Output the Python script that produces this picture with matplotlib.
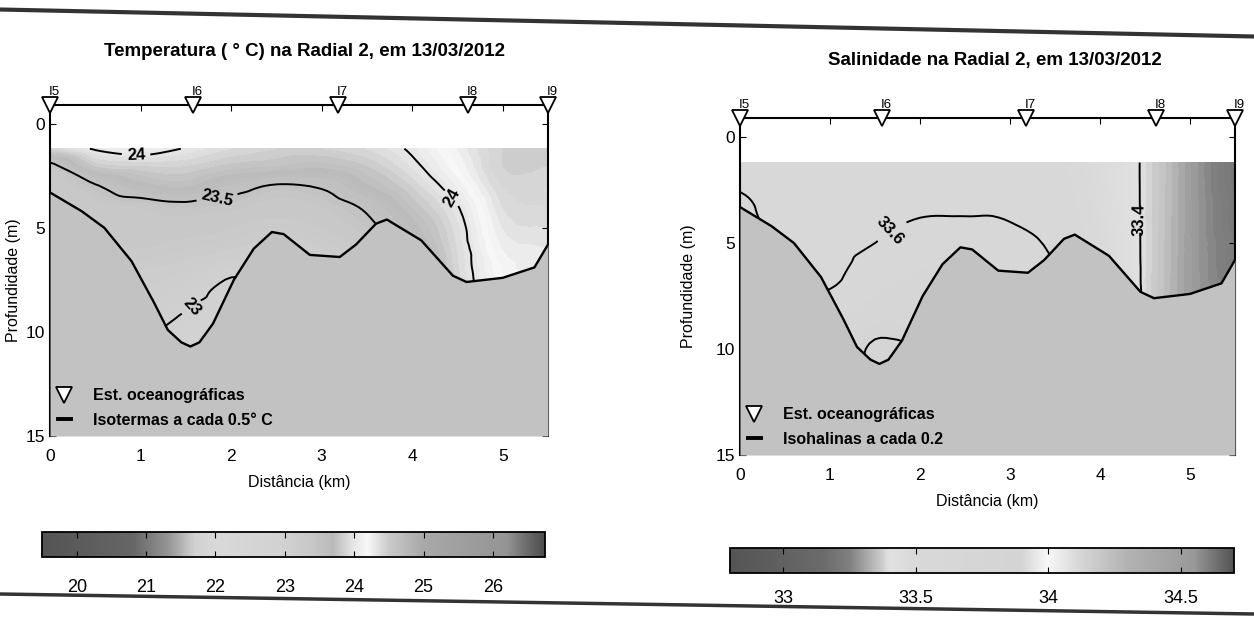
import numpy as np
import matplotlib
matplotlib.use("Agg")
import matplotlib.pyplot as plt
import matplotlib.tri as mtri
from matplotlib.colors import LinearSegmentedColormap, Normalize
from matplotlib.cm import ScalarMappable
from matplotlib.lines import Line2D

plt.rcParams["font.family"] = ["Liberation Sans", "DejaVu Sans"]

# stations along the radial
stations = ["I5", "I6", "I7", "I8", "I9"]
station_km = [0.0, 1.58, 3.18, 4.62, 5.5]

# bottom profile (km, m)
bottom_km = [0.0, 0.35, 0.6, 0.9, 1.15, 1.3, 1.45, 1.55, 1.65, 1.8, 2.03, 2.25,
             2.45, 2.58, 2.87, 3.2, 3.38, 3.6, 3.72, 4.1, 4.45, 4.6, 5.0, 5.35, 5.5]
bottom_depth = [3.3, 4.2, 5.0, 6.6, 8.6, 9.9, 10.5, 10.7, 10.5, 9.6, 7.5, 6.0,
                5.2, 5.3, 6.3, 6.4, 5.8, 4.8, 4.6, 5.6, 7.3, 7.6, 7.4, 6.9, 5.8]

# section grid
grid_km = [0.0, 0.5, 1.0, 1.5, 2.0, 2.5, 3.0, 3.5, 4.0, 4.5, 5.0, 5.5]
grid_depth = [1.2, 2, 3, 4, 5, 6, 7, 8, 9, 10, 11]

# temperature (°C), one row per column of grid_km
temp_cols = [
    [23.85, 23.45, 23.30, 23.20, 23.15, 23.10, 23.05, 23.00, 22.95, 22.90, 22.85],
    [24.02, 23.80, 23.48, 23.35, 23.30, 23.25, 23.20, 23.15, 23.10, 23.05, 23.00],
    [24.10, 23.85, 23.65, 23.40, 23.35, 23.30, 23.20, 23.15, 23.10, 23.05, 22.98],
    [23.99, 23.85, 23.70, 23.45, 23.35, 23.25, 23.15, 23.08, 23.00, 22.90, 22.85],
    [23.90, 23.78, 23.58, 23.42, 23.30, 23.20, 23.04, 22.95, 22.90, 22.85, 22.80],
    [23.85, 23.75, 23.48, 23.35, 23.25, 23.15, 23.05, 23.00, 22.95, 22.90, 22.85],
    [23.85, 23.72, 23.52, 23.40, 23.30, 23.20, 23.10, 23.05, 23.00, 22.95, 22.90],
    [23.90, 23.80, 23.68, 23.53, 23.45, 23.35, 23.30, 23.25, 23.20, 23.15, 23.10],
    [24.03, 23.96, 23.85, 23.75, 23.65, 23.55, 23.45, 23.40, 23.35, 23.30, 23.25],
    [24.25, 24.20, 24.10, 23.99, 23.93, 23.90, 23.88, 23.85, 23.80, 23.75, 23.70],
    [24.45, 24.45, 24.40, 24.35, 24.30, 24.25, 24.20, 24.15, 24.10, 24.05, 24.00],
    [24.45, 24.45, 24.40, 24.40, 24.35, 24.30, 24.30, 24.25, 24.20, 24.15, 24.10],
]

# salinity
salt_cols = [
    [33.54, 33.57, 33.62, 33.64, 33.65, 33.66, 33.66, 33.66, 33.66, 33.66, 33.66],
    [33.52, 33.54, 33.55, 33.56, 33.57, 33.58, 33.60, 33.62, 33.63, 33.64, 33.65],
    [33.53, 33.54, 33.55, 33.56, 33.57, 33.58, 33.595, 33.63, 33.66, 33.68, 33.70],
    [33.55, 33.56, 33.57, 33.58, 33.60, 33.63, 33.66, 33.70, 33.77, 33.82, 33.83],
    [33.56, 33.575, 33.585, 33.605, 33.64, 33.67, 33.70, 33.73, 33.75, 33.79, 33.79],
    [33.56, 33.575, 33.59, 33.605, 33.63, 33.66, 33.68, 33.70, 33.71, 33.72, 33.72],
    [33.55, 33.565, 33.585, 33.60, 33.62, 33.64, 33.66, 33.67, 33.68, 33.69, 33.70],
    [33.53, 33.54, 33.555, 33.57, 33.585, 33.60, 33.62, 33.63, 33.64, 33.65, 33.66],
    [33.47, 33.47, 33.475, 33.48, 33.49, 33.50, 33.51, 33.52, 33.53, 33.54, 33.55],
    [33.39, 33.39, 33.39, 33.39, 33.39, 33.39, 33.39, 33.39, 33.39, 33.39, 33.39],
    [33.30, 33.30, 33.30, 33.30, 33.30, 33.30, 33.30, 33.30, 33.30, 33.30, 33.30],
    [33.21, 33.21, 33.22, 33.22, 33.23, 33.23, 33.24, 33.24, 33.25, 33.25, 33.25],
]

temp_ticks = [20, 21, 22, 23, 24, 25, 26]
salt_ticks = [33, 33.5, 34, 34.5]


def gray_cmap(name, vmin, vmax, anchors):
    pts = [((v - vmin) / (vmax - vmin), (g, g, g)) for v, g in anchors]
    return LinearSegmentedColormap.from_list(name, pts)


temp_norm = Normalize(19.5, 26.75)
temp_cmap = gray_cmap("temp", 19.5, 26.75, [
    (19.5, 0.33), (20.8, 0.40), (21.3, 0.58), (21.7, 0.82), (22.0, 0.85),
    (23.0, 0.82), (23.4, 0.78), (23.7, 0.73), (23.95, 0.88), (24.2, 0.97),
    (24.5, 0.79), (25.0, 0.66), (26.2, 0.58), (26.75, 0.30)])

salt_norm = Normalize(32.8, 34.7)
salt_cmap = gray_cmap("salt", 32.8, 34.7, [
    (32.8, 0.33), (33.15, 0.42), (33.25, 0.50), (33.33, 0.70), (33.4, 0.88),
    (33.5, 0.85), (33.9, 0.83), (34.0, 0.97), (34.1, 0.86), (34.3, 0.70),
    (34.55, 0.60), (34.7, 0.33)])

SEAFLOOR = "#c2c2c2"


def draw_section(ax, values, cmap, norm, line_levels, fmt, label_pos, legend_text):
    X, Y = np.meshgrid(grid_km, grid_depth)
    Z = np.array(values).T
    tri = mtri.Triangulation(X.ravel(), Y.ravel())
    interp = mtri.CubicTriInterpolator(tri, Z.ravel(), kind="geom")
    tri_f, z_f = mtri.UniformTriRefiner(tri).refine_field(Z.ravel(), interp, subdiv=3)

    ax.tricontourf(tri_f, z_f, levels=np.linspace(norm.vmin, norm.vmax, 146),
                   cmap=cmap, norm=norm, zorder=1)
    cs = ax.tricontour(tri_f, z_f, levels=line_levels, colors="k", linewidths=1.4, zorder=2)
    labels = ax.clabel(cs, fmt=fmt, fontsize=12, manual=label_pos, inline_spacing=5)
    for t in labels:
        t.set_fontweight("bold")

    ax.fill_between(bottom_km, bottom_depth, 15, color=SEAFLOOR, lw=0, zorder=3)
    ax.plot(bottom_km, bottom_depth, color="k", lw=1.7, zorder=4)

    ax.plot(station_km, [-0.9] * len(station_km), ls="none", marker="v", ms=11,
            mfc="white", mec="k", mew=1.3, clip_on=False, zorder=6)
    for name, x in zip(stations, station_km):
        ax.annotate(name, (x, -0.9), xytext=(3, 5), textcoords="offset points",
                    ha="center", va="bottom", fontsize=9.5, annotation_clip=False)

    ax.set_xlim(0, 5.5)
    ax.set_ylim(15, -0.9)
    ax.set_xticks([0, 1, 2, 3, 4, 5])
    ax.set_yticks([0, 5, 10, 15])
    ax.tick_params(direction="in", top=True, right=True, length=4, labelsize=12.5)
    ax.tick_params(axis="x", bottom=False, pad=9)
    ax.spines["bottom"].set_visible(False)
    for side in ["left", "right", "top"]:
        ax.spines[side].set_linewidth(1.5)
    ax.set_xlabel("Distância (km)", fontsize=11.5, labelpad=8)

    handles = [Line2D([], [], ls="none", marker="v", ms=11, mfc="white", mec="k", mew=1.3),
               Line2D([], [], color="k", lw=2.8)]
    leg = ax.legend(handles, ["Est. oceanográficas", legend_text], loc="lower left",
                    frameon=False, prop={"weight": "bold", "size": 11.5},
                    handlelength=0.8, handletextpad=1.4, borderaxespad=0.1,
                    labelspacing=0.6)
    leg.set_zorder(7)


fig = plt.figure(figsize=(12.54, 6.19), dpi=100)

ax1 = fig.add_axes([0.0399, 0.2956, 0.3971, 0.5347])
draw_section(ax1, temp_cols, temp_cmap, temp_norm, [23.0, 23.5, 24.0],
             lambda v: f"{v:g}",
             [(0.95, 1.5), (1.85, 3.6), (1.6, 8.9), (4.42, 3.6)],
             "Isotermas a cada 0.5° C")
ax1.set_ylabel("Profundidade (m)", fontsize=11.5)
ax1.yaxis.set_label_coords(-0.058, 0.47)

ax2 = fig.add_axes([0.5901, 0.2649, 0.3947, 0.5444])
draw_section(ax2, salt_cols, salt_cmap, salt_norm, [33.4, 33.6, 33.8],
             lambda v: f"{v:.1f}",
             [(1.7, 4.5), (4.42, 3.9)],
             "Isohalinas a cada 0.2")
ax2.set_ylabel("Profundidade (m)", fontsize=11.5)
ax2.yaxis.set_label_coords(-0.088, 0.5)

fig.text(0.243, 0.916, "Temperatura ( ° C) na Radial 2, em 13/03/2012",
         ha="center", va="center", fontsize=13.5, fontweight="bold")
fig.text(0.793, 0.903, "Salinidade na Radial 2, em 13/03/2012",
         ha="center", va="center", fontsize=13.5, fontweight="bold")

# colour bars
cax1 = fig.add_axes([0.0335, 0.1002, 0.4011, 0.0404])
cb1 = fig.colorbar(ScalarMappable(temp_norm, temp_cmap), cax=cax1, orientation="horizontal")
cb1.set_ticks(temp_ticks)
cb1.ax.tick_params(pad=16)
cax2 = fig.add_axes([0.5821, 0.0743, 0.4019, 0.0404])
cb2 = fig.colorbar(ScalarMappable(salt_norm, salt_cmap), cax=cax2, orientation="horizontal")
cb2.set_ticks(salt_ticks)
cb2.set_ticklabels(["33", "33.5", "34", "34.5"])
cb2.ax.tick_params(pad=12)
for cb in (cb1, cb2):
    cb.outline.set_linewidth(1.3)
    cb.ax.tick_params(direction="in", top=True, length=4, labelsize=13)

# page rules from the scanned sheet
fig.add_artist(Line2D([0, 1], [1 - 9.5 / 619, 1 - 36.5 / 619], transform=fig.transFigure,
                      color="0.2", lw=3))
fig.add_artist(Line2D([0, 1], [1 - 594 / 619, 1 - 614 / 619], transform=fig.transFigure,
                      color="0.2", lw=2.5))

fig.savefig("out.png", dpi=100)
